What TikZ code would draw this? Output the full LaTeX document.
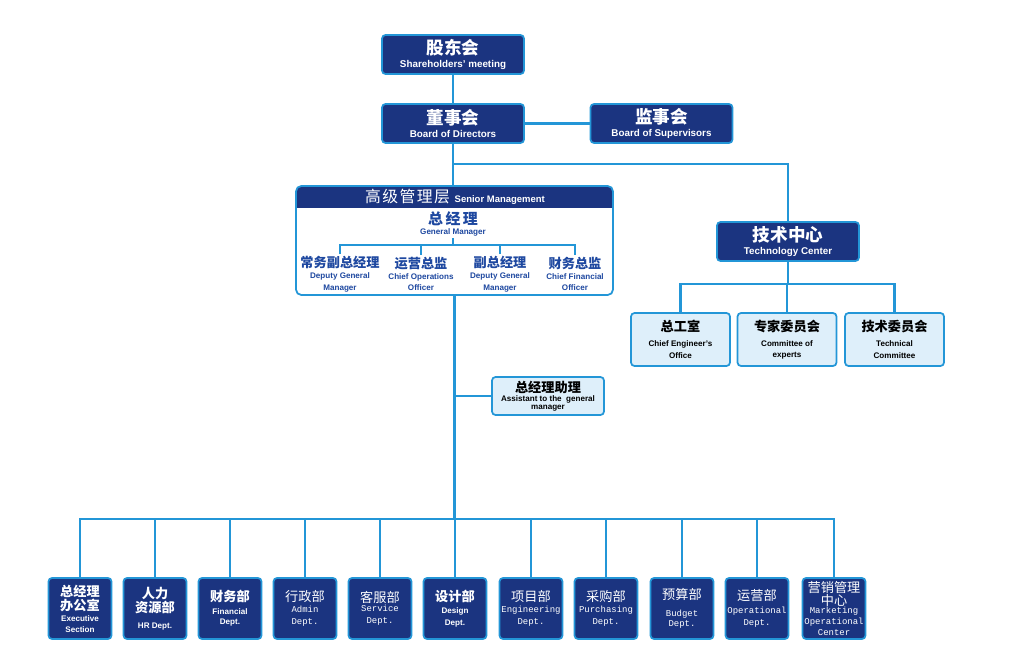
\documentclass[tikz,border=0pt]{standalone}
\usepackage{fontspec}
\setmainfont{Liberation Sans}
\setmonofont{Liberation Mono}
\newfontfamily\cjk{Noto Sans CJK SC}
\usetikzlibrary{positioning,calc}
\definecolor{navy}{RGB}{27,52,128}
\definecolor{lineblue}{RGB}{35,150,215}
\definecolor{paleblue}{RGB}{222,239,250}
\definecolor{textblue}{RGB}{30,72,160}

\newcommand{\titlezh}[1]{{\cjk\bfseries\fontsize{10}{12}\selectfont #1}}
\newcommand{\titleen}[1]{{\bfseries\fontsize{5.6}{6}\selectfont #1}}
\newcommand{\boxzh}[1]{{\cjk\bfseries\fontsize{7.5}{9}\selectfont #1}}
\newcommand{\boxen}[1]{{\bfseries\fontsize{4.6}{5.6}\selectfont #1}}
\newcommand{\deptzh}[1]{{\cjk\bfseries\fontsize{7.5}{8.6}\selectfont #1}}
\newcommand{\deptlt}[1]{{\cjk\fontsize{7.5}{8.6}\selectfont #1}}
\newcommand{\depten}[1]{{\bfseries\fontsize{4.6}{5.8}\selectfont #1}}
\newcommand{\depttt}[1]{{\ttfamily\fontsize{5.1}{5.8}\selectfont #1}}

\tikzset{
  link/.style={lineblue, line width=1.3pt},
  thinlink/.style={lineblue, line width=0.8pt},
  darkbox/.style={draw=lineblue, line width=1pt, fill=navy, text=white,
    rounded corners=2pt, align=center, inner sep=1pt, font=\fontsize{5}{5.6}\selectfont},
  lightbox/.style={draw=lineblue, line width=1pt, fill=paleblue, text=black,
    rounded corners=2pt, align=center, inner sep=1pt, font=\fontsize{5}{5.6}\selectfont},
  topbox/.style={darkbox, minimum width=2.84cm, minimum height=0.78cm},
  subbox/.style={lightbox, minimum width=1.98cm, minimum height=1.06cm},
  deptbox/.style={darkbox, minimum width=1.26cm, minimum height=1.22cm},
  mgr/.style={text=textblue, align=center, inner sep=1pt, font=\fontsize{5}{5.6}\selectfont}
}

\begin{document}
\begin{tikzpicture}[x=0.02cm, y=-0.02cm]
    \useasboundingbox (0,0) rectangle (1011,669);

        % Board level
        \node[topbox] (share) at (453,54.5) {\titlezh{股东会}\\[1.5pt]\titleen{Shareholders' meeting}};
        \node[topbox] (board) at (453,123.5) {\titlezh{董事会}\\[1.5pt]\titleen{Board of Directors}};
        \node[topbox] (superv) at (661.5,123.5) {\titlezh{监事会}\\[1.5pt]\titleen{Board of Supervisors}};

        % Senior management panel
        \node[outer sep=0pt, minimum width=6.34cm, minimum height=2.18cm] (senior) at (454.5,240.5) {};
        \begin{scope}
            \clip[rounded corners=3pt] (senior.north west) rectangle (senior.south east);
            \fill[white] (senior.north west) rectangle (senior.south east);
            \fill[navy] (senior.north west) rectangle ($(senior.north east)+(0,22)$);
        \end{scope}
        \draw[lineblue, line width=1pt, rounded corners=3pt] (senior.north west) rectangle (senior.south east);
        \node[text=white, inner sep=0pt] (header) at (455,197)
            {{\cjk\fontsize{9}{10}\selectfont 高\hspace{0.8pt}级\hspace{0.8pt}管\hspace{0.8pt}理\hspace{0.8pt}层} {\bfseries\fontsize{5.4}{6}\selectfont Senior Management}};

        \node[mgr] (gm) at (453,224) {{\cjk\bfseries\fontsize{8.5}{10}\selectfont 总\,经\,理}\\\boxen{General Manager}};
        \node[mgr] (dgm1) at (340,274) {\boxzh{常务副总经理}\\[0.8pt]\boxen{Deputy General}\\[0.8pt]\boxen{Manager}};
        \node[mgr] (coo) at (421,274) {\boxzh{运营总监}\\[0.8pt]\boxen{Chief Operations}\\[0.8pt]\boxen{Officer}};
        \node[mgr] (dgm2) at (500,274) {\boxzh{副总经理}\\[0.8pt]\boxen{Deputy General}\\[0.8pt]\boxen{Manager}};
        \node[mgr] (cfo) at (575,274) {\boxzh{财务总监}\\[0.8pt]\boxen{Chief Financial}\\[0.8pt]\boxen{Officer}};

        \draw[thinlink] (dgm1.north) -- ++(0,-9) coordinate (gmbus) -| (cfo.north);
        \foreach \n in {coo,dgm2}{ \draw[thinlink] (\n.north) -- (\n.north |- gmbus); }
        \draw[thinlink] (gm.south) -- (gm.south |- gmbus);

        % Technology center
        \node[topbox] (tech) at (788,241.5) {\titlezh{技术中心}\\[1.5pt]\titleen{Technology Center}};
        \node[subbox] (chief) at (680.5,339.5) {\boxzh{总工室}\\[3pt]\boxen{Chief Engineer's}\\[1pt]\boxen{Office}};
        \node[subbox] (experts) at (787,339.5) {\boxzh{专家委员会}\\[3pt]\boxen{Committee of}\\[1pt]\boxen{experts}};
        \node[subbox] (techcom) at (894.5,339.5) {\boxzh{技术委员会}\\[3pt]\boxen{Technical}\\[1pt]\boxen{Committee}};

        % Assistant
        \node[lightbox, minimum width=2.24cm, minimum height=0.76cm] (assist) at (548,396)
            {\boxzh{总经理助理}\\[-0.5pt]\boxen{Assistant to the\ \ general}\\[-1pt]\boxen{manager}};

        % Departments
        \foreach \name/\x/\txt in {
            exec/80/{\deptzh{总经理}\\\deptzh{办公室}\\[0.5pt]\depten{Executive}\\[0.5pt]\depten{Section}},
            hr/155/{\deptzh{人力}\\\deptzh{资源部}\\[3pt]\depten{HR Dept.}},
            fin/230/{\deptzh{财务部}\\[1.5pt]\depten{Financial}\\[0.5pt]\depten{Dept.}},
            admin/305/{\deptlt{行政部}\\[0.5pt]\depttt{Admin}\\[1.5pt]\depttt{Dept.}},
            service/380/{\deptlt{客服部}\\[-0.5pt]\depttt{Service}\\[1.5pt]\depttt{Dept.}},
            design/455/{\deptzh{设计部}\\[1.5pt]\depten{Design}\\[1pt]\depten{Dept.}},
            eng/531/{\deptlt{项目部}\\[0.5pt]\depttt{Engineering}\\[1.5pt]\depttt{Dept.}},
            purch/606/{\deptlt{采购部}\\[0.5pt]\depttt{Purchasing}\\[1.5pt]\depttt{Dept.}},
            budget/682/{\deptlt{预算部}\\[4pt]\depttt{Budget}\\[0.5pt]\depttt{Dept.}},
            oper/757/{\deptlt{运营部}\\[1.5pt]\depttt{Operational}\\[1.5pt]\depttt{Dept.}},
            market/834/{\deptlt{营销管理}\\[-0.5pt]\deptlt{中心}\\[-1pt]\depttt{Marketing}\\[0.3pt]\depttt{Operational}\\[0.8pt]\depttt{Center}}}{
            \node[deptbox] (\name) at (\x,608.5) {\txt};
        }

        % Connectors
        \draw[link] (share.south) -- (board.north);
        \draw[link] (board.east) -- (superv.west);
        \draw[link] (board.south) -- (board.south |- senior.north);
        \draw[link] (board.south) -- ++(0,20) -| (tech.north);
        \draw[link] (tech.south) -- ++(0,22) coordinate (techbus);
        \foreach \n in {chief,experts,techcom}{ \draw[link] (techbus) -| (\n.north); }
        \draw[link] (senior.south) -- ++(0,224) coordinate (deptbus);
        \draw[link] (assist.west) -- (assist.west -| senior.south);
        \foreach \n in {exec,hr,fin,admin,service,design,eng,purch,budget,oper,market}{
            \draw[link] (deptbus) -| (\n.north);
        }

\end{tikzpicture}
\end{document}
